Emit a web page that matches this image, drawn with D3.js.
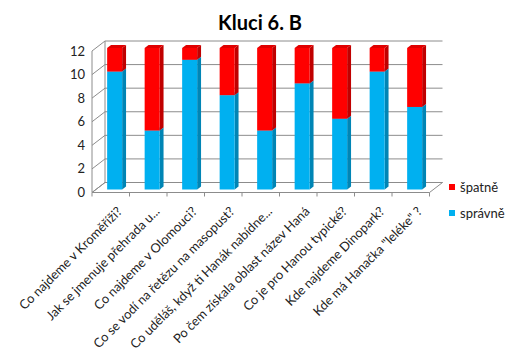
<!DOCTYPE html>
<html><head><meta charset="utf-8">
<script src="https://cdn.jsdelivr.net/npm/d3@7"></script>
<style>body{margin:0;background:#fff}svg{display:block}</style>
</head><body>
<script>
const categories = ["Co najdeme v Kroměříži?","Jak se jmenuje přehrada u...","Co najdeme v Olomouci?","Co se vodí na řetězu na masopust?","Co uděláš, když ti Hanák nabídne...","Po čem získala oblast název Haná","Co je pro Hanou typické?","Kde najdeme Dinopark?","Kde má Hanačka \"leléke\" ?"];
const spravne = [10,5,11,8,5,9,6,10,7];
const spatne  = [2,7,1,4,7,3,6,2,5];
const yTicks = [0,2,4,6,8,10,12];
const seriesNames = ["špatně","správně"];
const title = "Kluci 6. B";

const W=518,H=358;
const svg=d3.select("body").append("svg").attr("width",W).attr("height",H);
const font="Lato, 'Open Sans', sans-serif";
const x=d3.scaleBand().domain(categories).range([92,429.5]);
const y=d3.scaleLinear().domain([0,12]).range([192.5,51]);
const DX=13, DY=-10;
const grid="#8c8c8c";

// title
svg.append("text").attr("x",260).attr("y",30).attr("text-anchor","middle")
  .style("font-family",font).style("font-weight","bold").style("font-size","20px").text(title);

const g=svg.append("g");
// floor
const x0=x.range()[0], x1=x.range()[1];
g.append("path").attr("d",`M${x0},${y(0)}L${x1},${y(0)}L${x1+DX},${y(0)+DY}L${x0+DX},${y(0)+DY}Z`)
  .attr("fill","none").attr("stroke",grid);
// gridlines: left wall diagonal + back wall horizontal
yTicks.forEach(t=>{
  g.append("path").attr("d",`M${x0},${y(t)}L${x0+DX},${y(t)+DY}L${x1+DX},${y(t)+DY}`)
   .attr("fill","none").attr("stroke",grid);
});
g.append("line").attr("x1",x0).attr("x2",x0).attr("y1",y(0)).attr("y2",y(12)).attr("stroke",grid);
g.append("line").attr("x1",x0+DX).attr("x2",x0+DX).attr("y1",y(0)+DY).attr("y2",y(12)+DY).attr("stroke",grid);
// x ticks
x.domain().forEach((c,i)=>{
  g.append("line").attr("x1",x(c)).attr("x2",x(c)).attr("y1",y(0)).attr("y2",y(0)+4).attr("stroke",grid);
});
g.append("line").attr("x1",x1).attr("x2",x1).attr("y1",y(0)).attr("y2",y(0)+4).attr("stroke",grid);

// y labels
yTicks.forEach(t=>{
  svg.append("text").attr("x",85).attr("y",y(t)).attr("dy","0.35em").attr("text-anchor","end")
   .style("font-family",font).style("font-size","13px").attr("fill","#222").text(t);
});

// bars
const bw=15, f0=0.3, f1=0.6;
const fx=DX*f0, fy=DY*f0, bx=DX*f1, by=DY*f1;
function seg(c,v0,v1,col,side,top){
  const cx=x(c)+x.bandwidth()/2+fx;
  const l=cx-bw/2, r=cx+bw/2;
  const yb=y(v0)+fy, yt=y(v1)+fy;
  const dx=bx-fx, dy=by-fy;
  g.append("path").attr("d",`M${r},${yb}L${r+dx},${yb+dy}L${r+dx},${yt+dy}L${r},${yt}Z`).attr("fill",side);
  g.append("path").attr("d",`M${l},${yt}L${l+dx},${yt+dy}L${r+dx},${yt+dy}L${r},${yt}Z`).attr("fill",top);
  g.append("rect").attr("x",l).attr("y",yt).attr("width",bw).attr("height",yb-yt).attr("fill",col);
}
categories.forEach((c,i)=>{
  seg(c,0,spravne[i],"#00b0f0","#0085b5","#33c0f3");
  seg(c,spravne[i],spravne[i]+spatne[i],"#ff0000","#c00000","#e00000");
});

// x labels
categories.forEach(c=>{
  const cx=x(c)+x.bandwidth()/2;
  svg.append("text").attr("transform",`translate(${cx+9},${209}) rotate(-45)`)
   .attr("text-anchor","end").attr("dy","0.35em")
   .style("font-family",font).style("font-size","12.8px").attr("fill","#222").text(c);
});

// legend
const lg=svg.append("g");
[["špatně","#ff0000",184],["správně","#00b0f0",210]].forEach(([n,col,yy])=>{
  lg.append("rect").attr("x",449).attr("y",yy).attr("width",6).attr("height",6).attr("fill",col);
  lg.append("text").attr("x",460).attr("y",yy+3).attr("dy","0.35em")
   .style("font-family",font).style("font-size","13px").attr("fill","#222").text(n);
});
</script>
</body></html>
